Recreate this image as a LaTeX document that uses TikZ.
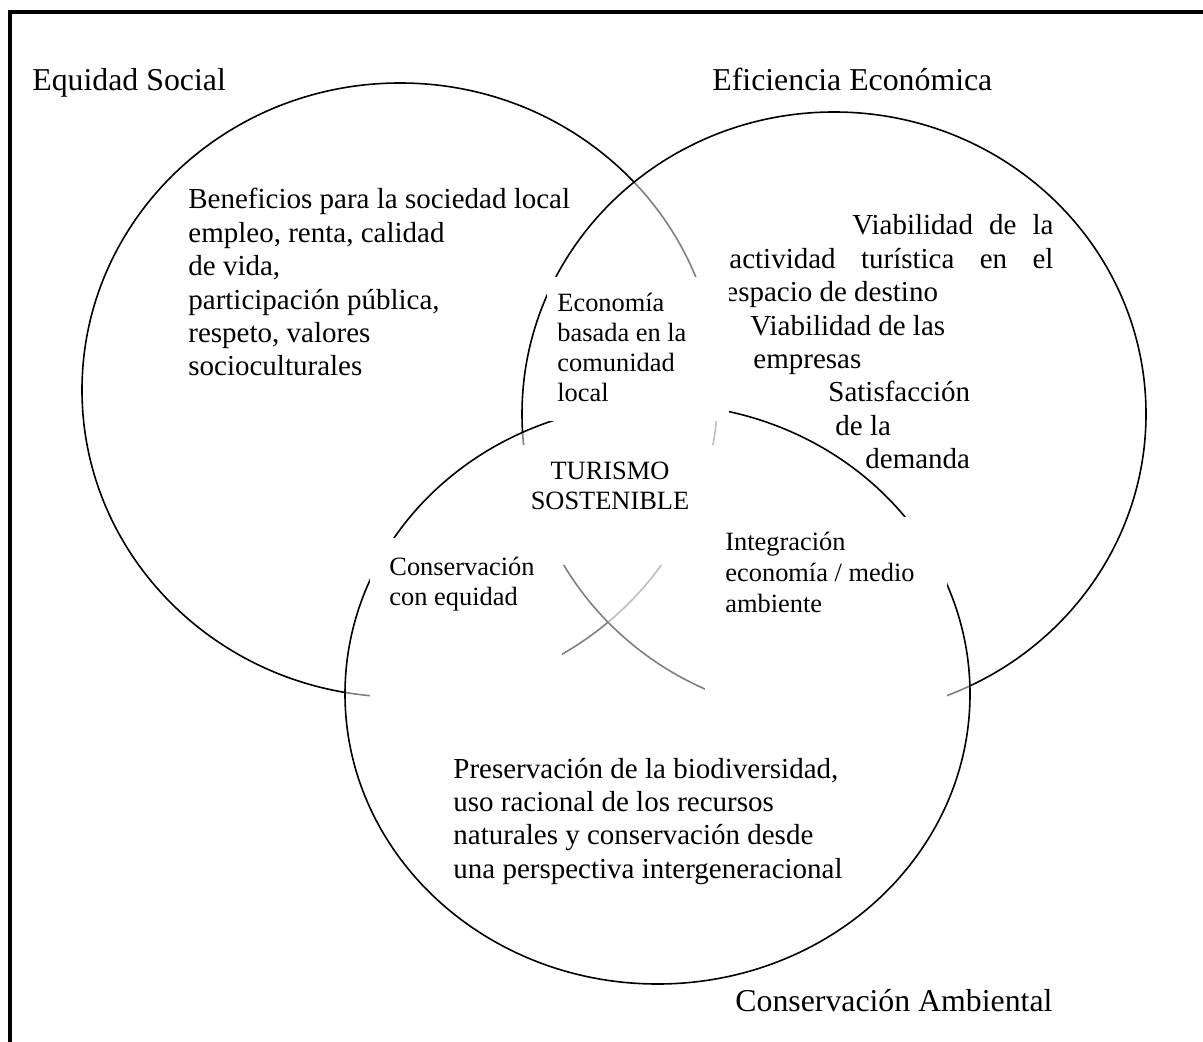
\documentclass[tikz,border=0pt]{standalone}
\usepackage{fontspec}
\setmainfont{Liberation Serif}
\usepackage{tikz}
\usetikzlibrary{positioning}

\begin{document}
\begin{tikzpicture}[x=0.5pt,y=-0.5pt,
	circulo/.style={draw=black,line width=0.8pt,fill=white,fill opacity=0.5},
	tapa/.style={fill=white},
	titulo/.style={anchor=base west,inner sep=0pt,font=\fontsize{15.9}{18}\selectfont},
	texto/.style={anchor=base west,inner sep=0pt,font=\fontsize{14.5}{16.7}\selectfont},
	chico/.style={anchor=base west,inner sep=0pt,font=\fontsize{13.2}{15}\selectfont}]
	
	\useasboundingbox (0,0) rectangle (1203,1042);
	\draw[line width=2pt,line join=miter] (9.5,1060) -- (9.5,12.5) -- (1220,12.5);
	
	\draw[circulo] (400,390) ellipse [x radius=159pt,y radius=153.5pt];
	\draw[circulo] (834,414) ellipse [x radius=156pt,y radius=151pt];
	\draw[circulo] (657.5,694) ellipse [x radius=156.25pt,y radius=145pt];
	
	\node[titulo] at (32,91) (1equidad) {Equidad Social}; \node[titulo] at (712,91) (1eficiencia) {Eficiencia Económica};
	\node[titulo] at (735,1011) (1conservacion) {Conservación Ambiental};
	
	\node[texto] at (188,209) (2beneficios) {\parbox[t]{220pt}{Beneficios para la sociedad local\\ empleo, renta, calidad\\ de vida,\\ participación pública,\\ respeto, valores\\ socioculturales}};
	\node[texto] at (725,235) (2viabilidad) {\vtop{\hbox to 164pt{\hspace*{63.5pt}Viabilidad\hfill de\hfill la}
		\hbox to 164pt{\hspace*{2pt}actividad\hfill turística\hfill en\hfill el}
		\hbox{espacio de destino} \hbox{\hspace*{12.5pt}Viabilidad de las} \hbox{\hspace*{14pt}empresas}
		\hbox{\hspace*{51.5pt}Satisfacción} \hbox{\hspace*{55pt}de la} \hbox{\hspace*{70pt}demanda}}};
	\node[texto] at (453,778) (2preservacion) {\parbox[t]{220pt}{Preservación de la biodiversidad,\\ uso racional de los recursos\\ naturales y conservación desde\\ una perspectiva intergeneracional}};
	
	\fill[tapa] (547,277) rectangle (729,421); \fill[tapa] (510,445) rectangle (720,565);
	\fill[tapa] (370,538) rectangle (562,730); \fill[tapa] (705,517) rectangle (947,732);
	
	\node[chico] at (557,312) (3economia) {\parbox[t]{90pt}{Economía\\ basada en la\\ comunidad\\ local}};
	\node[chico,anchor=base] at (610,480) (4turismo) {\parbox[t]{100pt}{\centering TURISMO\\ SOSTENIBLE}};
	\node[chico] at (389,575) (3conservacion) {\parbox[t]{90pt}{Conservación\\ con equidad}};
	\node[chico,font=\fontsize{13.2}{15.5}\selectfont] at (725,550) (3integracion) {\parbox[t]{110pt}{Integración\\ economía / medio\\ ambiente}};
	
\end{tikzpicture}
\end{document}
